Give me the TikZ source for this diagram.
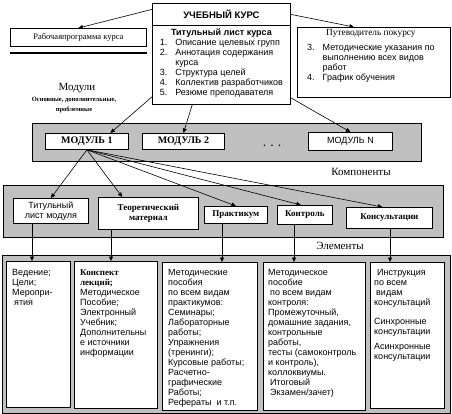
\documentclass[tikz,border=0pt]{standalone}
\usepackage{fontspec}
\setmainfont{Liberation Serif}
\setsansfont{Liberation Sans}
\usetikzlibrary{arrows.meta,calc,positioning}
\definecolor{PanelGray}{HTML}{C0C0C0}
\newcommand{\smtext}{\fontsize{9}{10}\selectfont}
\newcommand{\lbltext}{\fontsize{11}{13}\selectfont}

\begin{document}
\begin{tikzpicture}[x=1pt,y=-1pt,>={Triangle[length=4.5pt,width=4pt]},
  box/.style={draw,fill=white,line width=0.8pt,inner sep=0pt,anchor=north west},
  panel/.style={draw,fill=PanelGray,line width=0.8pt,inner sep=0pt,anchor=north west},
  txt/.style={inner sep=0pt,align=left,anchor=north west,font=\sffamily\smtext},
  bsf/.style={font=\rmfamily\bfseries\smtext,align=center},
  conn/.style={->,line width=0.6pt}]
  \useasboundingbox (0,0) rectangle (452,414);

  % gray panels
  \node[panel,minimum width=389pt,minimum height=38pt] (modpanel) at (32,123) {};
  \node[panel,minimum width=440pt,minimum height=52pt] (comppanel) at (3,185) {};
  \node[panel,minimum width=448pt,minimum height=158pt] (elpanel) at (2,255) {};

  % course level
  \node[box,minimum width=138pt,minimum height=22pt,font=\sffamily\bfseries\fontsize{9.5}{11}\selectfont] (kurs) at (152,3) {УЧЕБНЫЙ КУРС};
  \node[box,minimum width=138pt,minimum height=79pt] (titul) at (152,25) {};
  \node[anchor=north,inner sep=0pt,font=\sffamily\smtext] (titultext) at ([yshift=-3pt]titul.north)
    {\begin{tabular}{@{}l@{\hspace{8pt}}l@{}}
      \multicolumn{2}{c}{\bfseries Титульный лист курса}\\
      1. & Описание целевых групп\\
      2. & Аннотация содержания\\
         & курса\\
      3. & Структура целей\\
      4. & Коллектив разработчиков\\
      5. & Резюме преподавателя
    \end{tabular}};
  \node[box,minimum width=136pt,minimum height=18pt,font=\rmfamily\fontsize{8.5}{10}\selectfont] (rabprog) at (10,28) {Рабочаяпрограмма курса};
  \draw[line width=1.6pt] ([yshift=-6pt]rabprog.south west) -- ([yshift=-6pt]rabprog.south east);
  \node[box,minimum width=153pt,minimum height=70pt] (putevod) at (297,27) {};
  \node[anchor=north,inner sep=0pt,font=\sffamily\smtext] (putevodtext) at ([xshift=-3pt,yshift=-1pt]putevod.north)
    {\begin{tabular}{@{}l@{\hspace{8pt}}l@{}}
      \multicolumn{2}{c}{\rmfamily\fontsize{9.3}{10}\selectfont Путеводитель покурсу}\\[5pt]
      3. & Методические указания по\\
         & выполнению всех видов\\
         & работ\\
      4. & График обучения
    \end{tabular}};

  % modules
  \node[font=\rmfamily\lbltext,inner sep=0pt] (modlbl) at (77,88) {Модули};
  \node[font=\rmfamily\bfseries\fontsize{6.5}{9.5}\selectfont,align=center,inner sep=0pt] (modkinds) at (74,105) {Основные, дополнительные,\\проблемные};
  \node[box,minimum width=83pt,minimum height=16pt,font=\rmfamily\bfseries\fontsize{10}{11}\selectfont] (mod1) at (45,133) {МОДУЛЬ 1};
  \node[box,minimum width=82pt,minimum height=16pt,font=\rmfamily\bfseries\fontsize{10}{11}\selectfont] (mod2) at (142,133) {МОДУЛЬ 2};
  \node[font=\sffamily\bfseries\smtext,inner sep=0pt] (dots) at (272,146) {.\hspace{5pt}.\hspace{5pt}.};
  \node[box,minimum width=84pt,minimum height=18pt,font=\sffamily\smtext] (modN) at (308,132) {МОДУЛЬ N};

  % components
  \node[font=\rmfamily\lbltext,inner sep=0pt] (complbl) at (361,172) {Компоненты};
  \node[box,minimum width=75pt,minimum height=25pt,font=\sffamily\smtext,align=center] (c1) at (13,198) {Титульный\\лист модуля};
  \node[box,minimum width=100pt,minimum height=32pt,bsf] (c2) at (98,197) {Теоретический\\материал};
  \node[box,minimum width=63pt,minimum height=17pt,bsf] (c3) at (204,206) {Практикум};
  \node[box,minimum width=55pt,minimum height=19pt,bsf] (c4) at (277,205) {Контроль};
  \node[box,minimum width=86pt,minimum height=21pt,bsf] (c5) at (346,207) {Консультации};

  % elements
  \node[font=\rmfamily\lbltext,inner sep=0pt] (ellbl) at (340,246) {Элементы};
  \node[box,minimum width=64pt,minimum height=146pt] (e1) at (6,261) {};
  \node[box,minimum width=83pt,minimum height=147pt] (e2) at (74,261) {};
  \node[box,minimum width=95pt,minimum height=148pt] (e3) at (162,262) {};
  \node[box,minimum width=102pt,minimum height=148pt] (e4) at (263,262) {};
  \node[box,minimum width=74pt,minimum height=146pt] (e5) at (370,262) {};

  \node[txt] (e1text) at ([shift={(6,8)}]e1.north west)
    {Ведение;\\Цели;\\Меропри-\\\hspace{2pt}ятия};
  \node[txt] (e2text) at ([shift={(6,8)}]e2.north west)
    {{\rmfamily\bfseries Конспект}\\{\rmfamily\bfseries лекций;}\\Методическое\\Пособие;\\Электронный\\Учебник;\\Дополнительны\\е источники\\информации};
  \node[txt] (e3text) at ([shift={(6,7)}]e3.north west)
    {Методические\\пособия\\по всем видам\\практикумов:\\Семинары;\\Лабораторные\\работы;\\Упражнения\\(тренинги);\\Курсовые работы;\\Расчетно-\\графические\\Работы;\\Рефераты\ \ и т.п.};
  \node[txt] (e4text) at ([shift={(5,7)}]e4.north west)
    {Методическое\\пособие\\\hspace{2pt}по всем видам\\контроля:\\Промежуточный,\\домашние задания,\\контрольные\\работы,\\тесты (самоконтроль\\и контроль),\\коллоквиумы.\\\hspace{2pt}Итоговый\\\hspace{2pt}Экзамен/зачет)};
  \node[txt] (e5text) at ([shift={(4,7)}]e5.north west)
    {\hspace{3pt}Инструкция\\по всем\\\hspace{2pt}видам\\консультаций\\[9pt]Синхронные\\консультации\\[5pt]Асинхронные\\консультации};

  % connectors: course level
  \draw[conn] ([yshift=5pt]kurs.west) -- (rabprog.north);
  \draw[conn] (kurs.east) -- ([xshift=-20pt]putevod.north);
  \draw[conn] ([yshift=8pt]titul.south west) -- ($(mod1.north west)!0.78!(mod1.north east)$);
  \draw[conn] ($(titul.south west)!0.29!(titul.south east)$) -- (mod2.north);
  \draw[conn] ([yshift=7pt]titul.south east) -- (modN.north);

  % connectors: module 1 to components
  \draw[conn] (mod1.south) -- (c1.north);
  \draw[conn] (mod1.south) -- ($(c2.north west)!0.24!(c2.north east)$);
  \draw[conn] (mod1.south) -- (c3.north);
  \draw[conn] (mod1.south) -- ([xshift=-4pt]c4.north);
  \draw[conn] (mod1.south) -- ([xshift=-7pt]c5.north);

  % connectors: components to elements
  \coordinate (x1) at (32,0);
  \coordinate (x2) at (111,0);
  \coordinate (x3) at (222,0);
  \coordinate (x4) at (294,0);
  \coordinate (x5) at (390,0);
  \draw[conn] (c1.south -| x1) -- (e1.north -| x1);
  \draw[conn] (c2.south -| x2) -- (e2.north -| x2);
  \draw[conn] (c3.south -| x3) -- (e3.north -| x3);
  \draw[conn] (c4.south -| x4) -- (e4.north -| x4);
  \draw[conn] (c5.south -| x5) -- (e5.north -| x5);
\end{tikzpicture}
\end{document}
